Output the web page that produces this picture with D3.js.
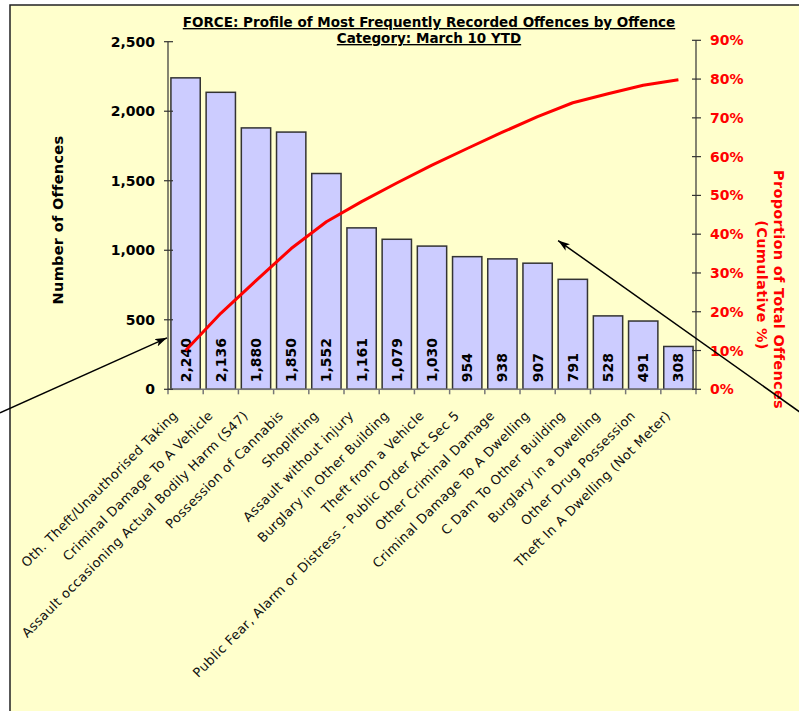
<!DOCTYPE html>
<html><head><meta charset="utf-8">
<script src="https://cdn.jsdelivr.net/npm/d3@7"></script>
<style>body{margin:0;background:#fff}svg{display:block}</style>
</head><body><svg id="c" width="799" height="711"></svg>
<script>
const categories = ["Oth. Theft/Unauthorised Taking","Criminal Damage To A Vehicle","Assault occasioning Actual Bodily Harm (S47)","Possession of Cannabis","Shoplifting","Assault without injury","Burglary in Other Building","Theft from a Vehicle","Public Fear, Alarm or Distress - Public Order Act Sec 5","Other Criminal Damage","Criminal Damage To A Dwelling","C Dam To  Other Building","Burglary in a Dwelling","Other Drug Possession","Theft In A Dwelling (Not Meter)"];
const offences = [2240,2136,1880,1850,1552,1161,1079,1030,954,938,907,791,528,491,308];
const cumulativePct = [10.0,19.6,28.0,36.3,43.2,48.4,53.2,57.8,62.1,66.3,70.3,73.9,76.2,78.4,79.8];
const leftTicks = [0,500,1000,1500,2000,2500];
const rightTicks = [0,10,20,30,40,50,60,70,80,90];
const titleLines = ["FORCE: Profile of Most Frequently Recorded Offences by Offence","Category: March 10 YTD"];

const svg = d3.select("#c");
const F = "'DejaVu Sans', Verdana, sans-serif";
// background
svg.append("rect").attr("x",10).attr("y",5).attr("width",800).attr("height",720)
  .attr("fill","#FFFFCC").attr("stroke","#222").attr("stroke-width",1.5);

const x = d3.scaleBand().domain(categories).range([168,696]).paddingInner(0.167).paddingOuter(0.083);
const y = d3.scaleLinear().domain([0,2500]).range([389.3,41.7]);
const y2 = d3.scaleLinear().domain([0,90]).range([389.3,40.3]);

// bars
svg.append("g").selectAll("rect").data(offences).join("rect")
  .attr("x",(d,i)=>x(categories[i])).attr("width",x.bandwidth())
  .attr("y",d=>y(d)).attr("height",d=>y(0)-y(d))
  .attr("fill","#CCCCFF").attr("stroke","#333").attr("stroke-width",1.5);

// value labels
svg.append("g").selectAll("text").data(offences).join("text")
  .attr("transform",(d,i)=>`translate(${x(categories[i])+x.bandwidth()/2+5},${y(0)-7}) rotate(-90)`)
  .attr("font-family",F).attr("font-weight","bold").attr("font-size",14)
  .attr("fill","#000").text(d=>d3.format(",")(d));

// x axis line & ticks
const xa = svg.append("g");
xa.append("line").attr("x1",168).attr("x2",696).attr("y1",y(0)).attr("y2",y(0)).attr("stroke","#777").attr("stroke-width",1.5);
const bounds = categories.map((c,i)=>168 + i*x.step()).concat([696]);
xa.selectAll("line.t").data(bounds).join("line").attr("class","t")
  .attr("x1",d=>d).attr("x2",d=>d).attr("y1",y(0)).attr("y2",y(0)+5).attr("stroke","#777").attr("stroke-width",1.5);
xa.selectAll("text").data(categories).join("text")
  .attr("transform",d=>`translate(${x(d)+x.bandwidth()/2-7},${y(0)+27}) rotate(-45)`)
  .attr("text-anchor","end").attr("font-family",F).attr("font-size",13).attr("letter-spacing","0.4px")
  .attr("fill","#111").text(d=>d);

// left axis
const la = svg.append("g");
la.append("line").attr("x1",168).attr("x2",168).attr("y1",y(2500)).attr("y2",y(0)).attr("stroke","#333").attr("stroke-width",1.2);
la.selectAll("line.t").data(leftTicks).join("line").attr("class","t")
  .attr("x1",164).attr("x2",173).attr("y1",d=>y(d)).attr("y2",d=>y(d)).attr("stroke","#333").attr("stroke-width",1.2);
la.selectAll("text").data(leftTicks).join("text")
  .attr("x",155).attr("y",d=>y(d)).attr("dy","0.36em").attr("text-anchor","end")
  .attr("font-family",F).attr("font-weight","bold").attr("font-size",14).text(d=>d3.format(",")(d));
svg.append("text").attr("transform","translate(62.5,220) rotate(-90)").attr("text-anchor","middle")
  .attr("font-family",F).attr("font-weight","bold").attr("font-size",14.5).attr("letter-spacing","0.3px").text("Number of Offences");

// right axis
const ra = svg.append("g");
ra.append("line").attr("x1",696).attr("x2",696).attr("y1",y2(90)).attr("y2",y2(0)).attr("stroke","#333").attr("stroke-width",1.2);
ra.selectAll("line.t").data(rightTicks).join("line").attr("class","t")
  .attr("x1",692).attr("x2",701).attr("y1",d=>y2(d)).attr("y2",d=>y2(d)).attr("stroke","#333").attr("stroke-width",1.2);
ra.selectAll("text").data(rightTicks).join("text")
  .attr("x",710).attr("y",d=>y2(d)).attr("dy","0.36em")
  .attr("font-family",F).attr("font-weight","bold").attr("font-size",14).attr("fill","#FF0000").text(d=>d+"%");
svg.append("text").attr("transform","translate(773.5,289.5) rotate(90)").attr("text-anchor","middle")
  .attr("font-family",F).attr("font-weight","bold").attr("font-size",14.5).attr("letter-spacing","0.3px").attr("fill","#FF0000").text("Proportion of Total Offences");
svg.append("text").attr("transform","translate(756.5,285) rotate(90)").attr("text-anchor","middle")
  .attr("font-family",F).attr("font-weight","bold").attr("font-size",14.5).attr("letter-spacing","0.3px").attr("fill","#FF0000").text("(Cumulative %)");

// cumulative line
svg.append("path").datum(cumulativePct)
  .attr("d",d3.line().x((d,i)=>x(categories[i])+x.bandwidth()/2).y(d=>y2(d)))
  .attr("fill","none").attr("stroke","#FF0000").attr("stroke-width",3).attr("stroke-linejoin","round");

// title
svg.append("g").selectAll("text").data(titleLines).join("text")
  .attr("x",429).attr("y",(d,i)=>27+i*16).attr("text-anchor","middle")
  .attr("font-family",F).attr("font-weight","bold").attr("font-size",13.5)
  .attr("text-decoration","underline").text(d=>d);

// annotation arrows
const defs = svg.append("defs");
defs.append("marker").attr("id","ah").attr("viewBox","0 0 12 8").attr("refX",12).attr("refY",4)
  .attr("markerWidth",12).attr("markerHeight",8).attr("markerUnits","userSpaceOnUse").attr("orient","auto")
  .append("path").attr("d","M0,0L12,4L0,8L3,4Z").attr("fill","#000");
const arrows = [
  {x1:0, y1:y(-170), x2:x.range()[0]-1, y2:y(370)},
  {x1:800, y1:y(-165), x2:x(categories[11]), y2:y(1070)}
];
svg.append("g").selectAll("line").data(arrows).join("line")
  .attr("x1",d=>d.x1).attr("y1",d=>d.y1).attr("x2",d=>d.x2).attr("y2",d=>d.y2)
  .attr("stroke","#000").attr("stroke-width",1.5).attr("marker-end","url(#ah)");
</script></body></html>
